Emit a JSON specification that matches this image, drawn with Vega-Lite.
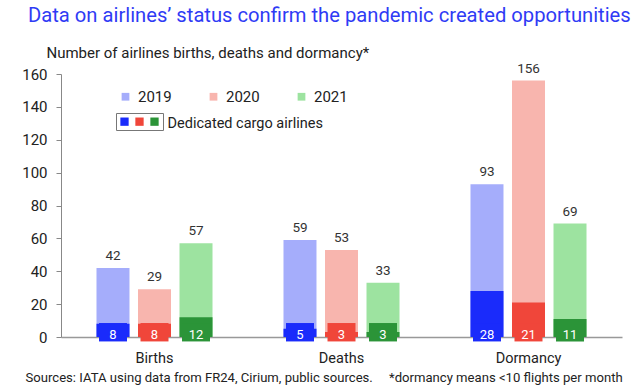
{
  "$schema": "https://vega.github.io/schema/vega-lite/v6.json",
  "width": 561,
  "height": 263,
  "autosize": {"type": "none"},
  "padding": {"left": 61, "top": 74, "right": 20, "bottom": 50},
  "background": "white",
  "config": {
    "view": {"stroke": null},
    "font": "Roboto",
    "legend": {"padding": 0},
    "axisY": {
      "labelOverlap": false,
      "labelFlush": false,
      "tickCount": 9,
      "grid": false,
      "domainColor": "#888",
      "tickColor": "#888",
      "tickSize": 5,
      "labelFontSize": 15,
      "labelColor": "#222",
      "labelPadding": 9,
      "titleAngle": 0,
      "titleAlign": "left",
      "titleBaseline": "alphabetic",
      "titleX": -15,
      "titleY": -17,
      "titleFontSize": 15,
      "titleFontWeight": "normal",
      "titleColor": "#222"
    }
  },
  "title": {
    "text": "Data on airlines’ status confirm the pandemic created opportunities",
    "anchor": "start",
    "frame": "group",
    "fontSize": 20.2,
    "fontWeight": "normal",
    "color": "#2f3bf5",
    "dx": -33,
    "offset": 19
  },
  "data": {
    "values": [
      {"category": "Births", "year": "2019", "total": 42, "cargo": 8},
      {"category": "Births", "year": "2020", "total": 29, "cargo": 8},
      {"category": "Births", "year": "2021", "total": 57, "cargo": 12},
      {"category": "Deaths", "year": "2019", "total": 59, "cargo": 5},
      {"category": "Deaths", "year": "2020", "total": 53, "cargo": 3},
      {"category": "Deaths", "year": "2021", "total": 33, "cargo": 3},
      {"category": "Dormancy", "year": "2019", "total": 93, "cargo": 28},
      {"category": "Dormancy", "year": "2020", "total": 156, "cargo": 21},
      {"category": "Dormancy", "year": "2021", "total": 69, "cargo": 11}
    ]
  },
  "encoding": {
    "x": {
      "field": "category",
      "type": "nominal",
      "sort": ["Births", "Deaths", "Dormancy"],
      "scale": {"paddingInner": 0, "paddingOuter": 0},
      "axis": {
        "title": "Sources: IATA using data from FR24, Cirium, public sources.\u00a0\u00a0\u00a0\u00a0\u00a0*dormancy means <10 flights per month",
        "titleX": -36,
        "titleY": 44,
        "titleAlign": "left",
        "titleAnchor": null,
        "titleBaseline": "alphabetic",
        "titleFontSize": 13.1,
        "titleFontWeight": "normal",
        "titleColor": "#222",
        "labelAngle": 0,
        "labelFontSize": 14.5,
        "labelColor": "#222",
        "labelPadding": 14,
        "ticks": false,
        "tickSize": 0,
        "domainColor": "#999",
        "domainWidth": 1.5
      }
    },
    "xOffset": {
      "field": "year",
      "type": "nominal",
      "scale": {"paddingInner": 0.205, "paddingOuter": 0.855}
    }
  },
  "layer": [
    {
      "mark": {"type": "bar"},
      "encoding": {
        "y": {
          "field": "total",
          "type": "quantitative",
          "scale": {"domain": [0, 160]},
          "axis": {
            "values": [0, 20, 40, 60, 80, 100, 120, 140, 160],
            "labelOverlap": false,
            "title": "Number of airlines births, deaths and dormancy*"
          }
        },
        "color": {
          "field": "year",
          "type": "nominal",
          "scale": {"range": ["#a5adfb", "#f8b5ae", "#9de3a0"]},
          "legend": {
            "title": null,
            "orient": "none",
            "direction": "horizontal",
            "legendX": 57,
            "legendY": 15,
            "symbolType": "square",
            "symbolSize": 60,
            "labelFontSize": 15,
            "labelColor": "#222",
            "labelOffset": 5,
            "columnPadding": 34
          }
        }
      }
    },
    {
      "layer": [
        {
          "mark": {"type": "bar"},
          "encoding": {
            "y": {
              "field": "cargo",
              "type": "quantitative",
              "axis": {
                "values": [0, 20, 40, 60, 80, 100, 120, 140, 160],
                "labelOverlap": false,
                "title": "Number of airlines births, deaths and dormancy*"
              }
            },
            "color": {
              "field": "year",
              "type": "nominal",
              "scale": {"range": ["#1a2bfb", "#f0463a", "#2b9438"]},
              "legend": {
                "title": null,
                "orient": "none",
                "direction": "horizontal",
                "legendX": 55,
                "legendY": 39,
                "padding": 4,
                "strokeColor": "#777",
                "symbolType": "square",
                "symbolSize": 69,
                "symbolStrokeWidth": 0,
                "labelExpr": "''",
                "labelFontSize": 1,
                "labelOffset": 0,
                "labelLimit": 1,
                "columnPadding": 6,
                "rowPadding": 0
              }
            }
          }
        },
        {
          "mark": {"type": "bar", "size": 28},
          "encoding": {
            "y": {
              "datum": -2.7,
              "axis": {
                "values": [0, 20, 40, 60, 80, 100, 120, 140, 160],
                "labelOverlap": false,
                "title": "Number of airlines births, deaths and dormancy*"
              }
            },
            "y2": {"datum": 8.5},
            "color": {"field": "year", "type": "nominal"},
            "stroke": {
              "datum": "Dedicated cargo airlines",
              "type": "nominal",
              "scale": {"range": ["transparent"]},
              "legend": {
                "title": null,
                "orient": "none",
                "legendX": 92,
                "legendY": 43,
                "symbolSize": 0,
                "symbolOpacity": 0,
                "labelOffset": 0,
                "labelFontSize": 14.5,
                "labelColor": "#222"
              }
            }
          }
        }
      ]
    },
    {
      "mark": {"type": "text", "baseline": "alphabetic", "dy": -8, "fontSize": 13.5, "color": "#333"},
      "encoding": {
        "y": {
          "field": "total",
          "type": "quantitative",
          "axis": {
            "values": [0, 20, 40, 60, 80, 100, 120, 140, 160],
            "labelOverlap": false,
            "title": "Number of airlines births, deaths and dormancy*"
          }
        },
        "text": {"field": "total", "type": "quantitative"}
      }
    },
    {
      "mark": {"type": "text", "baseline": "middle", "fontSize": 13, "color": "white"},
      "encoding": {
        "y": {
          "datum": 1.4,
          "axis": {
            "values": [0, 20, 40, 60, 80, 100, 120, 140, 160],
            "labelOverlap": false,
            "title": "Number of airlines births, deaths and dormancy*"
          }
        },
        "text": {"field": "cargo", "type": "quantitative"}
      }
    }
  ],
  "resolve": {"scale": {"color": "independent"}, "legend": {"color": "independent"}}
}
